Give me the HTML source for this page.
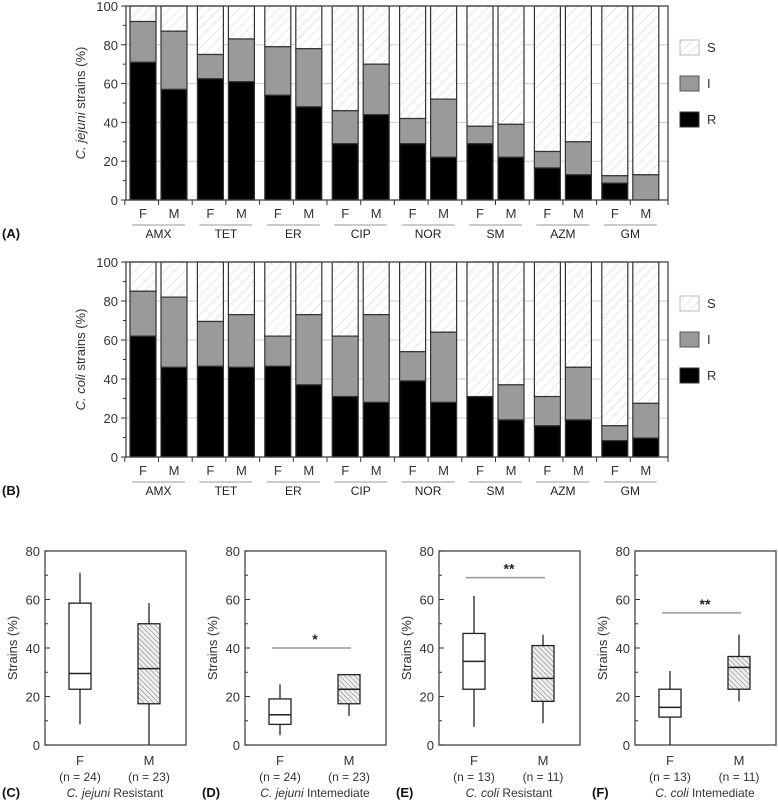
<!DOCTYPE html>
<html><head><meta charset="utf-8"><style>
body{margin:0;background:#fff}
svg{display:block;font-family:"Liberation Sans",Arial,sans-serif}
</style></head><body>
<svg id="fig" width="778" height="801" viewBox="0 0 778 801" xmlns="http://www.w3.org/2000/svg">
<defs>
<pattern id="hS" width="7" height="7" patternUnits="userSpaceOnUse" patternTransform="rotate(45)"><rect width="7" height="7" fill="#fff"/><line x1="0" y1="0" x2="0" y2="7" stroke="#cfcfcf" stroke-width="1"/></pattern>
<pattern id="hM" width="3.5" height="3.5" patternUnits="userSpaceOnUse" patternTransform="rotate(-45)"><rect width="4" height="4" fill="#eee"/><line x1="0" y1="0" x2="0" y2="4" stroke="#777" stroke-width="1"/></pattern>
</defs>
<g id="root"></g>
</svg>
<script>
const drugs=["AMX","TET","ER","CIP","NOR","SM","AZM","GM"];
const jejuniR_F=[71,62.5,54,29,29,29,16.5,8.7];
const jejuniT_F=[92,75,79,46,42,38,25,12.5];
const jejuniR_M=[57,61,48,44,22,22,13,0];
const jejuniT_M=[87,83,78,70,52,39,30,13];
const coliR_F=[62,46.5,46.5,31,39,31,16,8.4];
const coliT_F=[85,69.5,62,62,54,31,31,16];
const coliR_M=[46,46,37,28,28,19,19,9.7];
const coliT_M=[82,73,73,73,64,37,46,27.5];
const yTicks=[0,20,40,60,80,100];
const boxTicks=[0,20,40,60,80];
// box stats: [whiskerLow, q1, median, q3, whiskerHigh]
const boxC_F=[8.5,23,29.5,58.5,71], boxC_M=[0,17,31.5,50,58.5];
const boxD_F=[4,8.5,12.5,19,25], boxD_M=[12,17,23,29,29];
const boxE_F=[7.5,23,34.5,46,61.5], boxE_M=[9,18,27.5,41,45.5];
const boxF_F=[0,11.5,15.5,23,30.5], boxF_M=[18,23,32,36.5,45.5];
const sigD=40, sigE=69, sigF=54.5;

const NS="http://www.w3.org/2000/svg";
const root=document.getElementById('root');
function el(tag,attrs,parent,text){const e=document.createElementNS(NS,tag);for(const k in attrs)e.setAttribute(k,attrs[k]);if(text!==undefined)e.textContent=text;(parent||root).appendChild(e);return e;}

function barChart(top,bottom,R_F,T_F,R_M,T_M,ylab,panel,species){
  const g=el('g',{});
  
  
  const x0=126,x1=668;
  const y=v=>bottom-(bottom-top)*v/100;
  const pitch=67.4,start=130,bw=26,gap=5;
  yTicks.forEach(t=>{if(t>0&&t<100){const l=el('line',{x1:x0,x2:x1,y1:y(t),y2:y(t),stroke:'#ccc','stroke-width':1},g);}});
  const bars=[[R_F,T_F,'F'],[R_M,T_M,'M']];
  drugs.forEach((d,i)=>{
    bars.forEach((b,j)=>{
      const bx=start+i*pitch+j*(bw+gap);
      const r=b[0][i],t=b[1][i];
      const s=el('rect',{x:bx,y:y(100),width:bw,height:y(t)-y(100),fill:'url(#hS)',stroke:'#333','stroke-width':1.2},g);
      
      const m=el('rect',{x:bx,y:y(t),width:bw,height:y(r)-y(t),fill:'#9a9a9a',stroke:'#333','stroke-width':1.2},g);
      
      const rr=el('rect',{x:bx,y:y(r),width:bw,height:bottom-y(r),fill:'#000',stroke:'#333','stroke-width':1.2},g);
      
      const tl=el('text',{x:bx+bw/2,y:bottom+18,'text-anchor':'middle','font-size':13,fill:'#333'},g,b[2]);
      
    });
    const gx=start+i*pitch;
    el('line',{x1:gx+bw+gap/2,x2:gx+bw+gap/2,y1:bottom,y2:bottom+5,stroke:'#333'},g);
    el('line',{x1:gx-pitch+2*bw+gap+ (pitch-2*bw-gap)/2,x2:gx-pitch+2*bw+gap+(pitch-2*bw-gap)/2,y1:bottom,y2:bottom+5,stroke:'#333'},g);
    const u=el('line',{x1:gx+2,x2:gx+2*bw+gap-2,y1:bottom+25,y2:bottom+25,stroke:'#bbb','stroke-width':1.5},g);
    
    const dl=el('text',{x:gx+bw+gap/2,y:bottom+38,'text-anchor':'middle','font-size':12,fill:'#222'},g,d);
    
  });
  const f=el('rect',{x:x0,y:top,width:x1-x0,height:bottom-top,fill:'none',stroke:'#444','stroke-width':1.3},g);
  
  el('line',{x1:x1,x2:x1,y1:bottom,y2:bottom+5,stroke:'#333'},g);
  yTicks.forEach(t=>{
    el('line',{x1:x0-5,x2:x0,y1:y(t),y2:y(t),stroke:'#333'},g);
    if(t<100)el('line',{x1:x0-3,x2:x0,y1:y(t+10),y2:y(t+10),stroke:'#333'},g);
    const tl=el('text',{x:x0-8,y:y(t)+5,'text-anchor':'end','font-size':13,fill:'#333'},g,t);
    
  });
  const yl=el('text',{transform:`translate(85,${(top+bottom)/2}) rotate(-90)`,'text-anchor':'middle','font-size':13,fill:'#333'},g);
  
  el('tspan',{'font-style':'italic'},yl,ylab[0]);el('tspan',{},yl,ylab[1]);
  const p=el('text',{x:2,y:bottom+38,'font-size':13,'font-weight':'bold',fill:'#111'},g,panel);
  
  const leg=[['S','url(#hS)','#bbb'],['I','#9a9a9a','#555'],['R','#000','#333']];
  const ly0=top+34;
  leg.forEach((L,k)=>{
    const ly=ly0+k*36;
    const r=el('rect',{x:680,y:ly,width:19,height:15,fill:L[1],stroke:L[2]},g);
    
    const t=el('text',{x:707,y:ly+12,'font-size':13,fill:'#333'},g,L[0]);
    
  });
}
barChart(6,200,jejuniR_F,jejuniT_F,jejuniR_M,jejuniT_M,['C. jejuni',' strains (%)'],'(A)','jejuni');
barChart(262,457,coliR_F,coliT_F,coliR_M,coliT_M,['C. coli',' strains (%)'],'(B)','coli');

function boxPanel(ax,bF,bM,nF,nM,species,kind,panel,sig,stars){
  const g=el('g',{});
  
  
  const top=551,bottom=745,w=141;
  const y=v=>bottom-(bottom-top)*v/80;
  const f=el('rect',{x:ax,y:top,width:w,height:bottom-top,fill:'none',stroke:'#444','stroke-width':1.3},g);
  
  boxTicks.forEach(t=>{
    el('line',{x1:ax,x2:ax+5,y1:y(t),y2:y(t),stroke:'#333'},g);
    if(t<80)el('line',{x1:ax,x2:ax+3,y1:y(t+10),y2:y(t+10),stroke:'#333'},g);
    const tl=el('text',{x:ax-5,y:y(t)+5,'text-anchor':'end','font-size':13,fill:'#333'},g,t);
    
  });
  const yl=el('text',{transform:`translate(${ax-28},648) rotate(-90)`,'text-anchor':'middle','font-size':13,fill:'#333'},g,'Strains (%)');
  
  [[bF,ax+35,'#fff','F',nF],[bM,ax+104,'url(#hM)','M',nM]].forEach(B=>{
    const s=B[0],cx=B[1],hw=11;
    el('line',{x1:cx,x2:cx,y1:y(s[0]),y2:y(s[4]),stroke:'#222','stroke-width':1.3},g);
    const r=el('rect',{x:cx-hw,y:y(s[3]),width:2*hw,height:y(s[1])-y(s[3]),fill:B[2],stroke:'#222','stroke-width':1.3},g);
    
    const md=el('line',{x1:cx-hw,x2:cx+hw,y1:y(s[2]),y2:y(s[2]),stroke:'#222','stroke-width':1.5},g);
    
    const t1=el('text',{x:cx,y:765,'text-anchor':'middle','font-size':13,fill:'#333'},g,B[3]);
    
    const t2=el('text',{x:cx,y:781,'text-anchor':'middle','font-size':12,fill:'#333'},g,'(n = '+B[4]+')');
    
  });
  if(sig!==null){
    const sl=el('line',{x1:ax+35-8,x2:ax+104+2,y1:y(sig),y2:y(sig),stroke:'#999','stroke-width':1.5},g);
    
    const st=el('text',{x:ax+70,y:y(sig)-4,'text-anchor':'middle','font-size':14,'font-weight':'bold',fill:'#222'},g,stars);
    
  }
  const xt=el('text',{x:ax+70,y:797,'text-anchor':'middle','font-size':12,fill:'#333'},g);
  
  el('tspan',{'font-style':'italic'},xt,species);el('tspan',{},xt,' '+kind);
  const p=el('text',{x:ax-43,y:797,'font-size':13,'font-weight':'bold',fill:'#111'},g,panel);
  
}
boxPanel(45,boxC_F,boxC_M,24,23,'C. jejuni','Resistant','(C)',null,'');
boxPanel(245,boxD_F,boxD_M,24,23,'C. jejuni','Intemediate','(D)',sigD,'*');
boxPanel(439,boxE_F,boxE_M,13,11,'C. coli','Resistant','(E)',sigE,'**');
boxPanel(635,boxF_F,boxF_M,13,11,'C. coli','Intemediate','(F)',sigF,'**');
</script>
</body></html>
